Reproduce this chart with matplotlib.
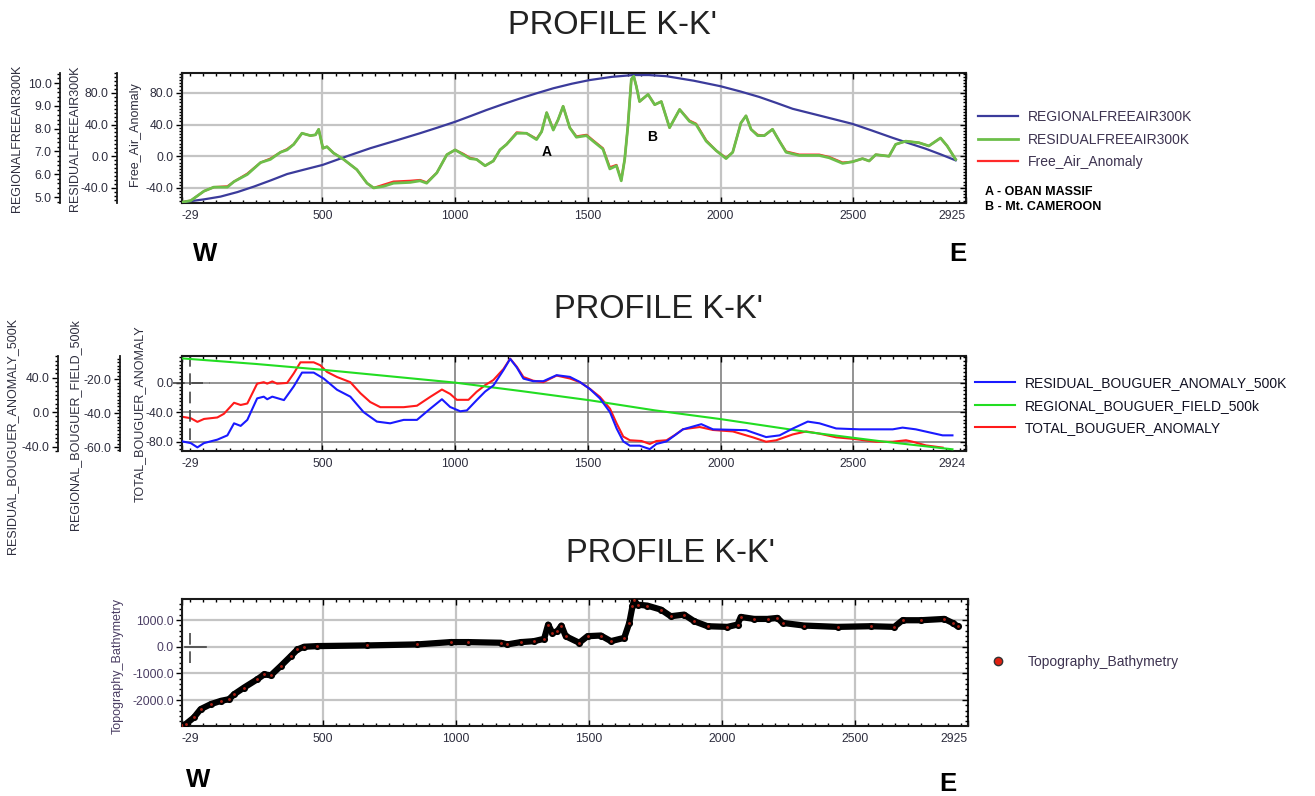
import matplotlib
matplotlib.use("Agg")
import matplotlib.pyplot as plt
from matplotlib.lines import Line2D
from matplotlib.ticker import MultipleLocator, FormatStrFormatter

plt.rcParams['font.family'] = ['Liberation Sans', 'DejaVu Sans']

# ---------------- data: free air profile ----------------
fa_dist = [-29, 4, 54, 91, 142, 167, 217, 267, 304, 342,
           367, 392, 423, 455, 474, 486, 502, 517, 542, 580,
           630, 668, 693, 730, 768, 831, 868, 893, 931, 969,
           1000, 1031, 1056, 1081, 1113, 1144, 1169, 1194, 1232, 1269,
           1307, 1326, 1345, 1370, 1388, 1407, 1432, 1457, 1495, 1520,
           1557, 1583, 1608, 1626, 1639, 1651, 1664, 1673, 1683, 1695,
           1727, 1752, 1777, 1808, 1846, 1883, 1908, 1946, 1984, 2021,
           2046, 2077, 2096, 2115, 2140, 2165, 2196, 2222, 2247, 2297,
           2372, 2410, 2460, 2497, 2535, 2560, 2585, 2635, 2660, 2698,
           2748, 2785, 2829, 2854, 2886]
residual_fa = [-58, -56, -44, -39, -39, -32, -23, -8, -4, 5,
               8, 15, 29, 26, 27, 34, 10, 12, 4, -4,
               -17, -34, -40, -38, -34, -33, -31, -34, -21, 2,
               8, 2, -3, -4, -12, -6, 8, 15, 29, 29,
               21, 31, 55, 33, 46, 63, 36, 24, 26, 19,
               9, -16, -12, -31, -4, 38, 97, 101, 88, 69,
               78, 65, 69, 36, 59, 44, 40, 19, 7, -3,
               5, 42, 51, 34, 26, 26, 34, 19, 5, 1,
               1, -2, -9, -7, -3, -6, 2, 0, 15, 19,
               17, 13, 23, 13, -4]
free_air = [-58, -56, -44, -39, -38, -32, -22, -8, -3, 5,
            9, 15, 29, 26, 27, 34, 10, 12, 4, -4,
            -17, -34, -40, -36, -32, -31, -30, -33, -21, 2,
            8, 3, -2, -4, -12, -6, 8, 15, 30, 29,
            22, 31, 55, 34, 46, 63, 36, 25, 27, 20,
            10, -14, -11, -30, -4, 38, 97, 101, 88, 69,
            78, 65, 69, 36, 59, 45, 41, 20, 7, -2,
            5, 42, 51, 34, 27, 26, 34, 19, 6, 2,
            2, -1, -8, -7, -3, -6, 2, 0, 15, 19,
            17, 13, 23, 13, -4]
reg_fa_dist = [-29, 54, 116, 180, 242, 305, 367, 430, 501, 590,
               680, 775, 868, 935, 1000, 1060, 1119, 1180, 1244, 1307,
               1370, 1440, 1507, 1590, 1670, 1730, 1796, 1900, 2000, 2075,
               2146, 2210, 2272, 2385, 2497, 2570, 2648, 2710, 2773, 2830,
               2886]
regional_fa = [4.77, 4.90, 5.02, 5.22, 5.46, 5.73, 6.01, 6.20, 6.41, 6.78,
               7.14, 7.47, 7.80, 8.05, 8.30, 8.56, 8.82, 9.07, 9.32, 9.55,
               9.77, 9.97, 10.13, 10.27, 10.35, 10.35, 10.30, 10.10, 9.86, 9.63,
               9.39, 9.13, 8.87, 8.54, 8.21, 7.92, 7.60, 7.36, 7.12, 6.87,
               6.61]
note_labels = ['A', 'B']
note_dist = [1346, 1744]
note_value = [5, 24]

# ---------------- data: bouguer profile ----------------
tba_dist = [-29, 4, 29, 54, 104, 129, 167, 192, 217, 254,
            279, 292, 311, 329, 367, 392, 417, 467, 492, 517,
            555, 605, 643, 680, 718, 806, 856, 906, 950, 981,
            1006, 1050, 1081, 1113, 1144, 1182, 1207, 1232, 1257, 1294,
            1332, 1382, 1432, 1470, 1507, 1545, 1583, 1608, 1633, 1658,
            1702, 1733, 1758, 1796, 1827, 1858, 1921, 1971, 2046, 2121,
            2171, 2209, 2272, 2322, 2372, 2435, 2497, 2585, 2648, 2698,
            2723, 2773, 2836]
total_ba = [-46, -48, -53, -49, -47, -42, -27, -30, -28, -1,
            1, -1, 2, -1, 0, 13, 28, 28, 24, 15,
            8, 1, -14, -26, -33, -33, -31, -19, -9, -15,
            -23, -23, -12, -3, 4, 19, 33, 22, 8, 3,
            1, 10, 6, 1, -8, -19, -35, -55, -73, -78,
            -79, -83, -79, -78, -71, -63, -60, -64, -66, -74,
            -80, -78, -70, -66, -69, -74, -76, -80, -80, -78,
            -80, -85, -88]
rba_dist = [-29, 4, 29, 54, 104, 142, 167, 192, 217, 254,
            279, 292, 311, 355, 392, 423, 467, 505, 555, 605,
            655, 705, 755, 806, 856, 906, 950, 981, 1019, 1044,
            1081, 1113, 1144, 1182, 1207, 1232, 1257, 1294, 1332, 1382,
            1432, 1470, 1507, 1545, 1583, 1608, 1633, 1658, 1695, 1733,
            1758, 1796, 1827, 1858, 1927, 1971, 2096, 2171, 2222, 2272,
            2328, 2372, 2435, 2522, 2648, 2685, 2735, 2836, 2873]
residual_ba = [-34, -36, -41, -36, -32, -27, -13, -16, -9, 16,
               18, 15, 18, 14, 30, 46, 46, 39, 26, 18,
               0, -11, -13, -9, -9, 4, 15, 6, 1, 2,
               14, 24, 31, 49, 62, 52, 39, 36, 36, 43,
               41, 35, 27, 16, 0, -19, -34, -39, -39, -43,
               -37, -34, -27, -20, -14, -20, -21, -29, -27, -19,
               -11, -13, -19, -20, -20, -18, -20, -27, -27]
reg_ba_dist = [-29, 250, 500, 750, 1000, 1250, 1507, 1750, 2000, 2322, 2600, 2873]
regional_ba = [-7.7, -11.0, -14.4, -18.2, -22.0, -27.0, -32.4, -38.3, -43.5, -51.0, -56.5, -61.3]
cursor_mid = (0, 0.0)

# ---------------- data: topography ----------------
topo_dist = [-29, -15, 16, 41, 79, 117, 148, 167, 204, 254,
             280, 305, 342, 380, 405, 430, 480, 668, 856, 981,
             1044, 1169, 1194, 1244, 1294, 1332, 1347, 1363, 1382, 1397,
             1413, 1464, 1495, 1545, 1583, 1633, 1652, 1664, 1670, 1683,
             1720, 1771, 1808, 1858, 1896, 1946, 2021, 2059, 2071, 2121,
             2172, 2209, 2228, 2309, 2435, 2560, 2648, 2679, 2748, 2836,
             2867, 2886]
topography = [-2950, -2898, -2649, -2338, -2152, -2028, -1965, -1779, -1531, -1219,
              -1034, -1071, -723, -350, -101, 0, 25, 50, 88, 175,
              175, 150, 88, 173, 210, 298, 832, 520, 585, 795,
              396, 148, 396, 421, 210, 334, 894, 1516, 1740, 1579,
              1541, 1392, 1143, 1205, 957, 770, 745, 832, 1118, 1043,
              1043, 1081, 894, 795, 745, 770, 745, 994, 994, 1043,
              894, 770]
cursor_topo = (0, 0.0)

TXT = '#2e2e3e'
W, H = 1315, 796

fig = plt.figure(figsize=(W / 100, H / 100), dpi=100)


def px_axes(left, top, right, bottom):
    return fig.add_axes([left / W, 1 - bottom / H, (right - left) / W, (bottom - top) / H])


def style_x(ax, last, grid_color, grid_lw):
    ax.set_xlim(-29, last)
    ticks = [-29, 500, 1000, 1500, 2000, 2500, last]
    ax.set_xticks(ticks)
    ax.set_xticklabels([str(t) for t in ticks])
    labels = ax.get_xticklabels()
    labels[0].set_ha('left')
    labels[-1].set_ha('right')
    ax.xaxis.set_minor_locator(MultipleLocator(50))
    ax.tick_params(axis='x', which='both', direction='in', top=True, bottom=True,
                   labelsize=8.7, labelcolor=TXT, pad=5)
    ax.tick_params(axis='x', which='major', length=4, width=1)
    ax.tick_params(axis='x', which='minor', length=2.5, width=1)
    ax.grid(True, which='major', color=grid_color, lw=grid_lw)
    ax.set_axisbelow(True)
    for s in ax.spines.values():
        s.set_linewidth(1.5)
        s.set_color('#1a1a1a')


def style_main_y(ax, ylim, ticks, minor, label, label_xy, color=TXT):
    ax.set_ylim(*ylim)
    rt = ax.twinx()
    rt.set_ylim(*ylim)
    rt.set_yticks(ticks)
    rt.yaxis.set_minor_locator(MultipleLocator(minor))
    rt.tick_params(axis='y', which='both', direction='in', labelright=False, width=1)
    rt.tick_params(axis='y', which='major', length=4)
    rt.tick_params(axis='y', which='minor', length=2)
    for s in rt.spines.values():
        s.set_visible(False)
    ax.set_yticks(ticks)
    ax.yaxis.set_minor_locator(MultipleLocator(minor))
    ax.yaxis.set_major_formatter(FormatStrFormatter('%.1f'))
    ax.tick_params(axis='y', which='both', direction='out', left=True, right=False,
                   labelsize=8.7, labelcolor=color, width=1, pad=2)
    ax.tick_params(axis='y', which='major', length=4)
    ax.tick_params(axis='y', which='minor', length=2.5)
    ax.set_ylabel(label, fontsize=9, color=color)
    ax.yaxis.set_label_coords(*label_xy)


def extra_y(ax, offset, ylim, ticks, minor, label, label_xy):
    tw = ax.twinx()
    tw.set_ylim(*ylim)
    for s in ('right', 'top', 'bottom'):
        tw.spines[s].set_visible(False)
    tw.spines['left'].set_visible(True)
    tw.spines['left'].set_position(('outward', offset))
    tw.spines['left'].set_linewidth(1.3)
    tw.spines['left'].set_color('#1a1a1a')
    tw.yaxis.set_ticks_position('left')
    tw.yaxis.set_label_position('left')
    tw.set_yticks(ticks)
    tw.yaxis.set_minor_locator(MultipleLocator(minor))
    tw.yaxis.set_major_formatter(FormatStrFormatter('%.1f'))
    tw.tick_params(axis='y', which='both', direction='out', labelsize=8.7,
                   labelcolor=TXT, width=1, pad=2)
    tw.tick_params(axis='y', which='major', length=4)
    tw.tick_params(axis='y', which='minor', length=2.5)
    tw.set_ylabel(label, fontsize=9, color=TXT)
    tw.yaxis.set_label_coords(*label_xy)
    return tw


title_kw = dict(ha='center', va='center', fontsize=23.5, color='#222222')
we_kw = dict(ha='center', va='center', fontsize=18.5, fontweight='bold',
             family=['Liberation Sans Narrow', 'DejaVu Sans Condensed', 'Liberation Sans'])
leg_kw = dict(loc='upper left', frameon=False, fontsize=10, handlelength=2.9,
              handletextpad=0.7, labelspacing=0.62, borderpad=0, borderaxespad=0)

# ================= panel 1: free air =================
fig.text(612 / W, 1 - 25 / H, "PROFILE K-K'", **title_kw)
ax1 = px_axes(182, 73, 966, 203)
fa_ylim = (-59, 105)
ax_reg = extra_y(ax1, 87.8, (4.74, 10.44), [5, 6, 7, 8, 9, 10], 0.2,
                 'REGIONALFREEAIR300K', (-0.203, 0.5))
ax_res = extra_y(ax1, 46.8, fa_ylim, [-40, 0, 40, 80], 5,
                 'RESIDUALFREEAIR300K', (-0.129, 0.5))
style_main_y(ax1, fa_ylim, [-40, 0, 40, 80], 4, 'Free_Air_Anomaly', (-0.052, 0.53))
style_x(ax1, 2925, '#c4c4c4', 1.6)

l_fa, = ax1.plot(fa_dist, free_air, color='#ff2a2a', lw=1.6)
l_res, = ax_res.plot(fa_dist, residual_fa, color='#6cbf4a', lw=2.0)
l_reg, = ax_reg.plot(reg_fa_dist, regional_fa, color='#3b3b9b', lw=1.6)
for lab, d, v in zip(note_labels, note_dist, note_value):
    ax1.text(d, v, lab, ha='center', va='center', fontsize=10, fontweight='bold')

fig.legend([l_reg, l_res, l_fa],
           ['REGIONALFREEAIR300K', 'RESIDUALFREEAIR300K', 'Free_Air_Anomaly'],
           bbox_to_anchor=(978 / W, 1 - 110 / H), labelcolor='#3d3350', **leg_kw)
fig.text(985 / W, 1 - 192 / H, 'A - OBAN MASSIF', fontsize=9, fontweight='bold', va='center')
fig.text(985 / W, 1 - 207 / H, 'B - Mt. CAMEROON', fontsize=9, fontweight='bold', va='center')
fig.text(205 / W, 1 - 254 / H, 'W', **we_kw)
fig.text(958 / W, 1 - 254 / H, 'E', **we_kw)

# ================= panel 2: bouguer =================
fig.text(659 / W, 1 - 310 / H, "PROFILE K-K'", **title_kw)
ax2 = px_axes(182, 356, 966, 451)
ax2_reg = extra_y(ax2, 44.6, (-62.3, -6.3), [-60, -40, -20], 2,
                  'REGIONAL_BOUGUER_FIELD_500k', (-0.129, 0.283))
ax2_res = extra_y(ax2, 89.3, (-45.2, 65.3), [-40, 0, 40], 5,
                  'RESIDUAL_BOUGUER_ANOMALY_500K', (-0.209, 0.157))
style_main_y(ax2, (-92.6, 36.6), [-80, -40, 0], 5, 'TOTAL_BOUGUER_ANOMALY', (-0.046, 0.388))
style_x(ax2, 2924, '#8a8a8a', 1.3)

l_tba, = ax2.plot(tba_dist, total_ba, color='#ff1a1a', lw=1.5)
l_rba, = ax2_res.plot(rba_dist, residual_ba, color='#1a1aff', lw=1.5)
l_gba, = ax2_reg.plot(reg_ba_dist, regional_ba, color='#22dd22', lw=1.5)
ax2.axvline(cursor_mid[0], ymin=0.12, ymax=1.0, color='#444444', lw=1.2, ls=(0, (7, 4)))
ax2.axhline(cursor_mid[1], xmin=-0.012, xmax=0.036, color='#444444', lw=1.2,
            ls=(0, (7, 4)), clip_on=False)

fig.legend([l_rba, l_gba, l_tba],
           ['RESIDUAL_BOUGUER_ANOMALY_500K', 'REGIONAL_BOUGUER_FIELD_500k', 'TOTAL_BOUGUER_ANOMALY'],
           bbox_to_anchor=(975 / W, 1 - 376 / H), labelcolor='#111122', **leg_kw)

# ================= panel 3: topography =================
fig.text(671 / W, 1 - 553 / H, "PROFILE K-K'", **title_kw)
ax3 = px_axes(182, 599, 968, 726)
style_main_y(ax3, (-2970, 1790), [-2000, -1000, 0, 1000], 200, 'Topography_Bathymetry',
             (-0.074, 0.47), color='#4a3d63')
style_x(ax3, 2925, '#c4c4c4', 1.6)

ax3.plot(topo_dist, topography, color='black', lw=4.5, solid_capstyle='round',
         solid_joinstyle='round', zorder=3)
ax3.plot(topo_dist, topography, ls='none', marker='o', ms=3.6, mfc='#a82014',
         mec='black', mew=1.5, zorder=4)
ax3.axvline(cursor_topo[0], ymin=0.5, ymax=0.73, color='#444444', lw=1.2, ls=(0, (7, 4)))
ax3.axhline(cursor_topo[1], xmin=0.004, xmax=0.03, color='#444444', lw=1.2)

topo_handle = Line2D([], [], ls='none', marker='o', ms=6, mfc='#e02010', mec='#333333', mew=1)
fig.legend([topo_handle], ['Topography_Bathymetry'],
           bbox_to_anchor=(978 / W, 1 - 655 / H), labelcolor='#3d3350', **leg_kw)
fig.text(198 / W, 1 - 780 / H, 'W', **we_kw)
fig.text(948 / W, 1 - 784 / H, 'E', **we_kw)

fig.savefig('out.png', dpi=100)
